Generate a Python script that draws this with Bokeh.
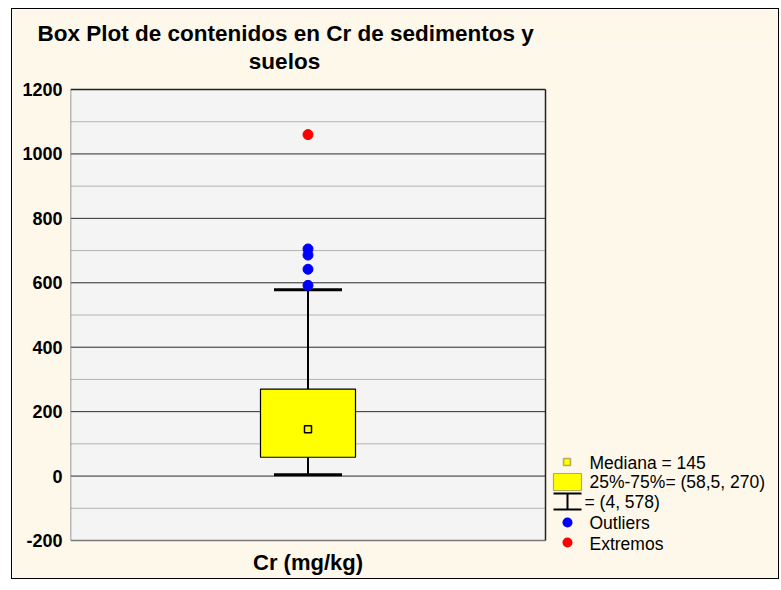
from bokeh.plotting import figure
from bokeh.models import Range1d, FixedTicker, Label, BoxAnnotation, Title
from bokeh.embed import file_html
from bokeh.resources import INLINE

# ---- data ----
categories = ["Cr (mg/kg)"]
q1 = [58.5]
median = [145]
q3 = [270]
whisker_low = [4]
whisker_high = [578]
outliers = [592, 642, 686, 705]
extremes = [1060]
y_ticks = [-200, 0, 200, 400, 600, 800, 1000, 1200]
y_tick_labels = ["-200", "0", "200", "400", "600", "800", "1000", "1200"]
title_lines = ["Box Plot de contenidos en Cr de sedimentos y", "suelos"]
legend_texts = ["Mediana = 145", "25%-75%= (58,5, 270)", "= (4, 578)", "Outliers", "Extremos"]

CREAM = "#fef8eb"
PLOTBG = "#f4f4f4"
FONT = "Liberation Sans"

# layout in canvas pixels
W, H = 766, 569
FRAME_L, FRAME_T, FRAME_BOT = 58, 37, 544      # frame edges
BOX_TOP, BOX_BOT, BOX_W = 80, 531, 475           # plotting box inside the frame
ymin, ymax = min(y_ticks), max(y_ticks)
k = (BOX_BOT - BOX_TOP) / (ymax - ymin)
y_end = ymax + (BOX_TOP - FRAME_T) / k
y_start = ymin - (FRAME_BOT - BOX_BOT) / k
frame_w = W - FRAME_L

xc = [i + 0.5 for i in range(len(categories))]

p = figure(width=W, height=H, x_range=Range1d(0, frame_w / BOX_W), y_range=Range1d(y_start, y_end),
           output_backend="svg", toolbar_location=None,
           min_border_left=FRAME_L, min_border_right=0, min_border_top=FRAME_T,
           min_border_bottom=H - FRAME_BOT)
p.styles = {"margin-left": "12px", "margin-top": "9px", "outline": "1.5px solid black"}
p.background_fill_color = CREAM
p.border_fill_color = CREAM
p.outline_line_color = None
p.xgrid.grid_line_color = None
p.ygrid.grid_line_color = None

# y axis (labels only)
p.yaxis.ticker = FixedTicker(ticks=y_ticks)
p.yaxis.major_label_overrides = {t: s for t, s in zip(y_ticks, y_tick_labels)}
p.yaxis.axis_line_color = None
p.yaxis.major_tick_line_color = None
p.yaxis.minor_tick_line_color = None
p.yaxis.major_tick_out = 0
p.yaxis.major_label_standoff = 8
p.yaxis.major_label_text_font = FONT
p.yaxis.major_label_text_font_style = "bold"
p.yaxis.major_label_text_font_size = "18px"
p.yaxis.major_label_text_color = "black"

# x axis (category label only)
p.xaxis.ticker = FixedTicker(ticks=xc)
p.xaxis.major_label_overrides = {x: c for x, c in zip(xc, categories)}
p.xaxis.axis_line_color = None
p.xaxis.major_tick_line_color = None
p.xaxis.minor_tick_line_color = None
p.xaxis.major_tick_out = 0
p.xaxis.major_label_standoff = -4
p.xaxis.major_label_text_font = FONT
p.xaxis.major_label_text_font_style = "bold"
p.xaxis.major_label_text_font_size = "22px"
p.xaxis.major_label_text_color = "black"

# plotting box
x0, x1 = 0, len(categories)
p.quad(left=[x0], right=[x1], bottom=[ymin], top=[ymax], fill_color=PLOTBG, line_color=None)
minor = [t + 100 for t in y_ticks[:-1]]
p.segment(x0=[x0] * len(minor), x1=[x1] * len(minor), y0=minor, y1=minor, line_color="#b4b4b4", line_width=1)
inner = y_ticks[1:-1]
p.segment(x0=[x0] * len(inner), x1=[x1] * len(inner), y0=inner, y1=inner, line_color="#2a2a2a", line_width=1)
# box borders: left/bottom gray, top/right dark
p.segment(x0=[x0, x0], x1=[x0, x1], y0=[ymin, ymin], y1=[ymax, ymin], line_color="#7a7a7a", line_width=1.5)
p.segment(x0=[x0, x1], x1=[x1, x1], y0=[ymax, ymin], y1=[ymax, ymax], line_color="#222222", line_width=1.5)

# whisker stems
p.segment(x0=xc, x1=xc, y0=whisker_low, y1=q1, line_color="black", line_width=2)
p.segment(x0=xc, x1=xc, y0=q3, y1=whisker_high, line_color="black", line_width=2)
# box
p.vbar(x=xc, width=0.2, bottom=q1, top=q3, fill_color="#ffff00", line_color="black", line_width=1.2)
# median
p.scatter(x=xc, y=median, marker="square", size=7, fill_color="#ffff00", line_color="black", line_width=1.5)
# caps
p.scatter(x=xc * 2, y=whisker_low + whisker_high, marker="dash", size=68, line_color="black", line_width=3)
# outliers / extremes
p.scatter(x=xc * len(outliers), y=outliers, size=10, fill_color="#0000ff", line_color="#0000ff")
p.scatter(x=xc * len(extremes), y=extremes, size=10, fill_color="#ff0000", line_color="#ff0000")

# title: first line above the frame, second line inside the frame's top strip
p.add_layout(Title(text=title_lines[0], align="left", offset=-33, text_font=FONT, text_font_style="bold",
                   text_font_size="22.5px", text_color="black", standoff=2), "above")
p.add_layout(Label(x=214, y=492, x_units="screen", y_units="screen", text=title_lines[1], text_align="center",
                   text_baseline="middle", text_font=FONT, text_font_style="bold", text_font_size="22.5px",
                   text_color="black"))

# legend (screen units: from frame left / frame bottom)
def box(l, r, t, b, fill, line=None, lw=0, radius=0):
    p.add_layout(BoxAnnotation(left=l, right=r, top=t, bottom=b, left_units="screen", right_units="screen",
                               top_units="screen", bottom_units="screen", fill_color=fill, fill_alpha=1,
                               line_color=line, line_width=lw, border_radius=radius, level="overlay"))

box(493, 500, 95, 88, "#ffff00", "black", 1.5)
box(483, 511, 80, 63, "#ffff00", "black", 1.2)
box(483, 511, 61, 59, "black")
box(496, 498, 60, 44, "black")
box(483, 511, 45, 43, "black")
box(492, 502, 36, 26, "#0000ff", radius=5)
box(492, 502, 16, 6, "#ff0000", radius=5)

lx = [519, 519, 514, 519, 519]
ly = [91, 72, 52, 31, 10]
for t, x, y in zip(legend_texts, lx, ly):
    p.add_layout(Label(x=x, y=y, x_units="screen", y_units="screen", text=t, text_align="left",
                       text_baseline="middle", text_font=FONT, text_font_size="17.5px", text_color="black"))

open("out.html", "w").write(file_html(p, INLINE))
